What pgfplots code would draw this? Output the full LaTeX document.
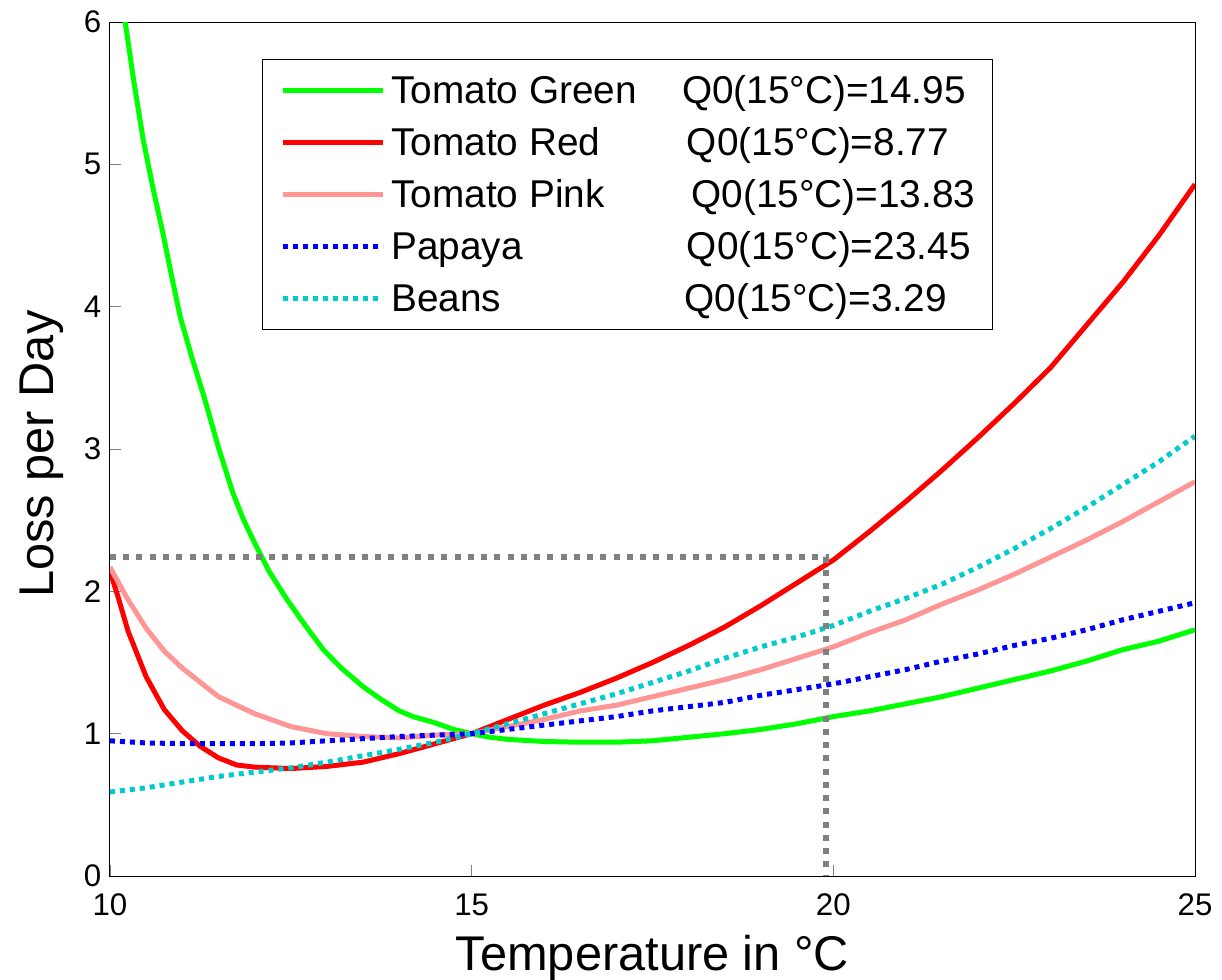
\documentclass[border=0pt]{standalone}
\usepackage{fontspec}
\setmainfont{Liberation Sans}
\usepackage{pgfplots}
\pgfplotsset{compat=1.18}
\definecolor{tgreen}{RGB}{0,255,0}
\definecolor{tred}{RGB}{255,0,0}
\definecolor{tpink}{RGB}{255,150,150}
\definecolor{pblue}{RGB}{0,0,255}
\definecolor{bcyan}{RGB}{0,204,204}
\definecolor{dgray}{RGB}{128,128,128}
\begin{document}
\begin{tikzpicture}
\useasboundingbox (-44pt,-41.2pt) rectangle (444.8pt,350.4pt);
\begin{axis}[
  at={(0,0)}, anchor=south west,
  scale only axis, width=434pt, height=341.6pt,
  xmin=10, xmax=25, ymin=0, ymax=6,
  xtick={10,15,20,25}, ytick={0,1,2,3,4,5,6},
  xtick pos=left, ytick pos=left, tick align=inside,
  major tick length=4.5pt,
  /pgf/number format/assume math mode=true,
  ticklabel style={font=\fontsize{12.5}{14}\selectfont},
  xticklabel style={yshift=-3.5pt},
  xlabel={Temperature in °C},
  ylabel={Loss per Day},
  label style={font=\fontsize{19.5}{22}\selectfont},
  xlabel style={at={(axis description cs:0.5,0)}, anchor=base, yshift=-37.6pt},
  ylabel style={at={(axis description cs:-0.0525,0.494)}, anchor=base},
  legend style={at={(axis description cs:0.1401,0.9567)}, anchor=north west,
    font=\fontsize{15.5}{18}\selectfont, draw=black, line width=0.5pt,
    nodes={inner sep=0pt, text height=13pt, text depth=3pt},
    row sep=4.8pt, column sep=2.5pt, inner xsep=7pt, inner ysep=4.4pt},
  legend cell align=left,
  legend image code/.code={\draw[#1] (0pt,0pt) -- (40pt,0pt);},
]
\addplot[tgreen, line width=2pt] coordinates {
(10,6.75)(10.1,6.38)(10.21,6.0)(10.33,5.58)(10.46,5.17)(10.6,4.82)(10.73,4.52)(10.85,4.22)(10.97,3.93)(11.14,3.63)(11.31,3.35)(11.5,3.01)(11.7,2.69)(11.84,2.51)(11.98,2.36)(12.2,2.14)(12.45,1.94)(12.7,1.76)(12.95,1.59)(13.2,1.46)(13.5,1.33)(13.75,1.24)(14.0,1.16)(14.19,1.12)(14.47,1.08)(14.75,1.03)(15,1.0)(15.25,0.975)(15.5,0.96)(16,0.945)(16.5,0.94)(17,0.94)(17.5,0.95)(18,0.975)(18.5,1.0)(19,1.03)(19.5,1.07)(20,1.12)(20.5,1.16)(21,1.21)(21.5,1.26)(22,1.32)(22.5,1.38)(23,1.44)(23.5,1.51)(24,1.59)(24.5,1.65)(25,1.73)};
\addlegendentry{\makebox[116.3pt][l]{Tomato Green}Q0(15°C)=14.95}
\addplot[tred, line width=2pt] coordinates {
(10,2.14)(10.1,1.98)(10.25,1.72)(10.5,1.40)(10.75,1.17)(11,1.02)(11.25,0.91)(11.5,0.83)(11.75,0.78)(12,0.765)(12.5,0.755)(13,0.77)(13.5,0.80)(14,0.86)(14.5,0.93)(15,1.0)(15.5,1.10)(16,1.20)(16.5,1.29)(17,1.39)(17.5,1.50)(18,1.62)(18.5,1.75)(19,1.90)(19.5,2.06)(20,2.22)(20.5,2.42)(21,2.63)(21.5,2.85)(22,3.08)(22.5,3.32)(23,3.57)(23.5,3.87)(24,4.17)(24.5,4.50)(25,4.86)};
\addlegendentry{\makebox[118.2pt][l]{Tomato Red}Q0(15°C)=8.77}
\addplot[tpink, line width=2pt] coordinates {
(10,2.17)(10.25,1.94)(10.5,1.74)(10.75,1.58)(11,1.46)(11.5,1.26)(12,1.14)(12.5,1.05)(13,1.0)(13.5,0.98)(14,0.97)(14.5,0.99)(15,1.0)(15.5,1.05)(16,1.10)(16.5,1.16)(17,1.20)(17.5,1.26)(18,1.32)(18.5,1.38)(19,1.45)(19.5,1.53)(20,1.61)(20.5,1.71)(21,1.80)(21.5,1.91)(22,2.01)(22.5,2.12)(23,2.24)(23.5,2.36)(24,2.49)(24.5,2.63)(25,2.77)};
\addlegendentry{\makebox[120.1pt][l]{Tomato Pink}Q0(15°C)=13.83}
\addplot[pblue, line width=2pt, dash pattern=on 2pt off 2pt] coordinates {
(10,0.95)(10.5,0.935)(11,0.93)(11.5,0.93)(12,0.93)(12.5,0.935)(13,0.95)(13.5,0.965)(14,0.98)(14.5,0.99)(15,1.0)(15.5,1.03)(16,1.06)(16.5,1.09)(17,1.12)(17.5,1.16)(18,1.19)(18.5,1.22)(19,1.27)(19.5,1.31)(20,1.35)(20.5,1.40)(21,1.45)(21.5,1.51)(22,1.56)(22.5,1.62)(23,1.67)(23.5,1.73)(24,1.80)(24.5,1.86)(25,1.92)};
\addlegendentry{\makebox[118.2pt][l]{Papaya}Q0(15°C)=23.45}
\addplot[bcyan, line width=2pt, dash pattern=on 2pt off 2pt] coordinates {
(10,0.59)(10.5,0.62)(11,0.66)(11.5,0.70)(12,0.73)(12.5,0.76)(13,0.80)(13.5,0.845)(14,0.89)(14.5,0.94)(15,1.0)(15.5,1.07)(16,1.14)(16.5,1.21)(17,1.28)(17.5,1.36)(18,1.44)(18.5,1.53)(19,1.61)(19.5,1.68)(20,1.76)(20.5,1.86)(21,1.95)(21.5,2.05)(22,2.17)(22.5,2.30)(23,2.44)(23.5,2.59)(24,2.75)(24.5,2.91)(25,3.09)};
\addlegendentry{\makebox[117.3pt][l]{Beans}Q0(15°C)=3.29}
\addplot[dgray, line width=2.4pt, dash pattern=on 2.4pt off 2.9pt, forget plot] coordinates {(10,2.24)(19.9,2.24)(19.9,0)};
\end{axis}
\end{tikzpicture}
\end{document}
